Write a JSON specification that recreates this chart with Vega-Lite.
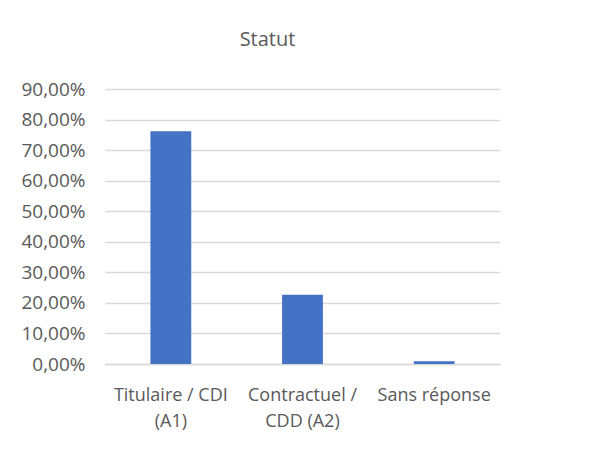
{
  "$schema": "https://vega.github.io/schema/vega-lite/v6.json",
  "width": 395,
  "height": 275,
  "autosize": {"type": "none"},
  "padding": {"left": 105, "top": 89, "right": 98, "bottom": 89},
  "background": "white",
  "title": {
    "text": "Statut",
    "font": "Open Sans",
    "fontSize": 20,
    "fontWeight": "normal",
    "color": "#595959",
    "anchor": "middle",
    "dx": -35,
    "offset": 30
  },
  "data": {
    "values": [
      {"statut": "Titulaire / CDI|(A1)", "pct": 0.762},
      {"statut": "Contractuel /|CDD (A2)", "pct": 0.227},
      {"statut": "Sans réponse", "pct": 0.009}
    ]
  },
  "mark": {"type": "bar", "color": "#4472C4"},
  "encoding": {
    "x": {
      "field": "statut",
      "type": "nominal",
      "sort": null,
      "scale": {"paddingInner": 0.69, "paddingOuter": 0.345},
      "axis": {
        "title": null,
        "labelAngle": 0,
        "labelExpr": "split(datum.value, '|')",
        "labelFont": "Open Sans",
        "labelFontSize": 18,
        "labelColor": "#595959",
        "labelLineHeight": 26,
        "labelPadding": 22,
        "ticks": false,
        "domainColor": "#d9d9d9",
        "domainWidth": 1.5
      }
    },
    "y": {
      "field": "pct",
      "type": "quantitative",
      "scale": {"domain": [0, 0.9], "nice": false},
      "axis": {
        "title": null,
        "values": [0, 0.1, 0.2, 0.3, 0.4, 0.5, 0.6, 0.7, 0.8, 0.9],
        "labelExpr": "replace(format(datum.value, '.2%'), '.', ',')",
        "labelFont": "Open Sans",
        "labelFontSize": 19,
        "labelColor": "#595959",
        "labelPadding": 20,
        "ticks": false,
        "domain": false,
        "gridColor": "#d9d9d9",
        "gridWidth": 1.5
      }
    }
  },
  "config": {"view": {"stroke": null}}
}
